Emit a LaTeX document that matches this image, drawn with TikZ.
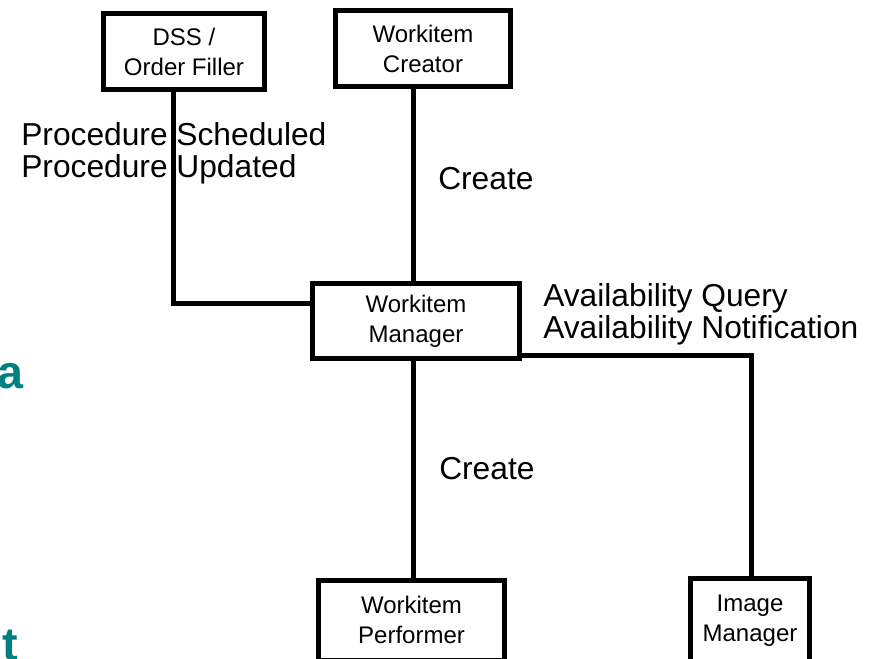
\documentclass[tikz,border=0pt]{standalone}
\usepackage{fontspec}
\setmainfont{Liberation Sans}
\usepackage{xcolor}
\usepackage{tikz}
\definecolor{slideteal}{RGB}{0,128,128}

\begin{document}
\begin{tikzpicture}[x=0.75pt, y=-0.75pt,
  actor/.style={draw, line width=3.75pt, line join=miter, align=center, inner sep=0pt,
                font=\fontsize{18}{22.5}\selectfont},
  link/.style={line width=3.75pt, line join=miter},
  msg/.style={anchor=north west, align=left, inner sep=0pt,
              font=\fontsize{23.8}{24.3}\selectfont},
  slide/.style={inner sep=0pt, text=slideteal, font=\fontsize{35}{40}\selectfont\bfseries}]

  \useasboundingbox (0,0) rectangle (875,658);

  % actors
  \node[actor, minimum width=161*0.75pt, minimum height=76*0.75pt] (dss) at (184,51.5) {DSS /\\Order Filler};
  \node[actor, minimum width=175*0.75pt, minimum height=76*0.75pt] (creator) at (423,48.5) {Workitem\\Creator};
  \node[actor, minimum width=207*0.75pt, minimum height=75*0.75pt] (mgr) at (416,321) {Workitem\\Manager};
  \node[actor, minimum width=186*0.75pt, minimum height=80*0.75pt] (perf) at (411.5,620) {Workitem\\Performer};
  \node[actor, minimum width=119*0.75pt, minimum height=84*0.75pt] (img) at (750,620.5) {Image\\Manager};

  % bends of the connectors
  \coordinate (dssturn) at (173,303);
  \coordinate (spine) at (413,321);
  \coordinate (imgturn) at (751,355);

  \draw[link] (dss.south -| dssturn) -- (dssturn) -- (mgr.west |- dssturn);
  \draw[link] (creator.south -| spine) -- (mgr.north -| spine);
  \draw[link] (mgr.south -| spine) -- (perf.north -| spine);
  \draw[link] (mgr.east |- imgturn) -- (imgturn) -- (img.north -| imgturn);

  % transaction labels
  \node[msg] (proc) at (21,122) {Procedure Scheduled\\Procedure Updated};
  \node[msg] (createup) at (438,167) {Create};
  \node[msg] (avail) at (543,283) {Availability Query\\Availability Notification};
  \node[msg] (createdn) at (439,457) {Create};

  % remains of the slide text behind
  \node[slide, anchor=base west] (slidea) at (-3,388) {a};
  \node[slide, anchor=base east] (slidet) at (18,660) {nt};
\end{tikzpicture}
\end{document}
